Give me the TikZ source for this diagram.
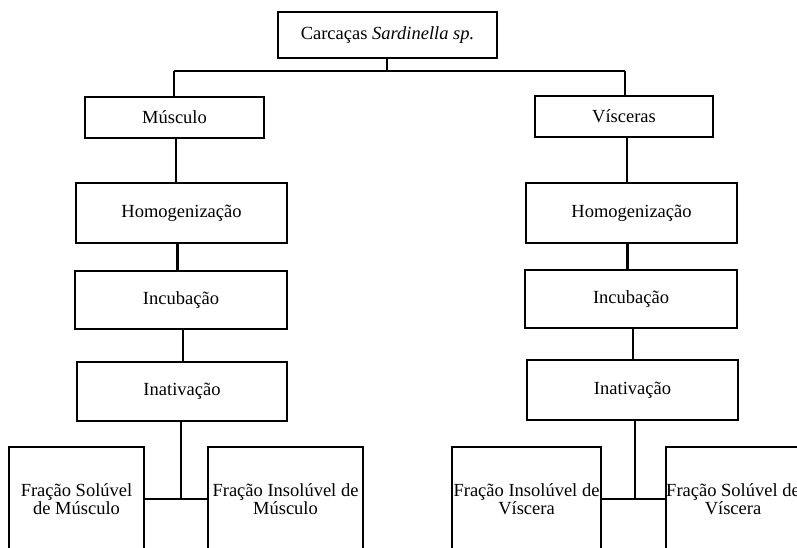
\documentclass[tikz,border=0pt]{standalone}
\usepackage{fontspec}
\setmainfont{Liberation Serif}
\begin{document}
\begin{tikzpicture}[x=1pt,y=-1pt,
  box/.style={draw,line width=1.4pt,rectangle,inner sep=0pt,align=center,
    font=\fontsize{18.5}{18}\selectfont},
  conn/.style={line width=1.4pt},
  thick conn/.style={line width=2.6pt}]
\clip (0,0) rectangle (797,547);
\fill[white] (0,0) rectangle (797,547);
% top
\node[box,minimum width=219,minimum height=46] (top) at (387.5,35) {Carcaças \textit{Sardinella sp.}};
% left column
\node[box,minimum width=179,minimum height=41] (musc) at (174.5,117.5) {Músculo};
\node[box,minimum width=211,minimum height=60] (homL) at (181.5,213) {Homogenização};
\node[box,minimum width=212,minimum height=58] (incL) at (181,300) {Incubação};
\node[box,minimum width=210,minimum height=59] (inaL) at (182,391.5) {Inativação};
\node[box,minimum width=135,minimum height=104] (fsL) at (76.5,499) {Fração Solúvel\\de Músculo};
\node[box,minimum width=155,minimum height=104] (fiL) at (285.5,499) {Fração Insolúvel de\\Músculo};
% right column
\node[box,minimum width=178,minimum height=41] (visc) at (624,116.5) {Vísceras};
\node[box,minimum width=211,minimum height=60] (homR) at (631.5,213) {Homogenização};
\node[box,minimum width=212,minimum height=58] (incR) at (631,299) {Incubação};
\node[box,minimum width=211,minimum height=60] (inaR) at (632.5,390) {Inativação};
\node[box,minimum width=149,minimum height=104] (fiR) at (526.5,499) {Fração Insolúvel de\\Víscera};
\node[box,minimum width=134,minimum height=104] (fsR) at (733,499) {Fração Solúvel de\\Víscera};
% junction coordinates
\coordinate (jT) at (387,71);
\coordinate (jL) at (174,71);
\coordinate (jR) at (625,71);
\coordinate (bL) at (181,499);
\coordinate (bR) at (635,499);
% top connectors
\draw[conn] ([xshift=-0.5]top.south) -- (jT);
\draw[conn] (jL) -- (jR);
\draw[conn] (jL) -- (jL |- musc.north);
\draw[conn] (jR) -- (jR |- visc.north);
% left chain
\draw[line width=2pt] ([xshift=1.5]musc.south) -- ([xshift=1.5]musc.south |- homL.north);
\draw[line width=3pt] ([xshift=-4.5]homL.south) -- ([xshift=-4.5]homL.south |- incL.north);
\draw[thick conn] ([xshift=2]incL.south) -- ([xshift=2]incL.south |- inaL.north);
\draw[thick conn] (bL |- inaL.south) -- (bL);
\draw[conn] (fsL.east) -- (fiL.west);
% right chain
\draw[thick conn] ([xshift=3]visc.south) -- ([xshift=3]visc.south |- homR.north);
\draw[line width=3pt] ([xshift=-4.5]homR.south) -- ([xshift=-4.5]homR.south |- incR.north);
\draw[thick conn] ([xshift=2]incR.south) -- ([xshift=2]incR.south |- inaR.north);
\draw[thick conn] (bR |- inaR.south) -- (bR);
\draw[conn] (fiR.east) -- (fsR.west);
\end{tikzpicture}
\end{document}
